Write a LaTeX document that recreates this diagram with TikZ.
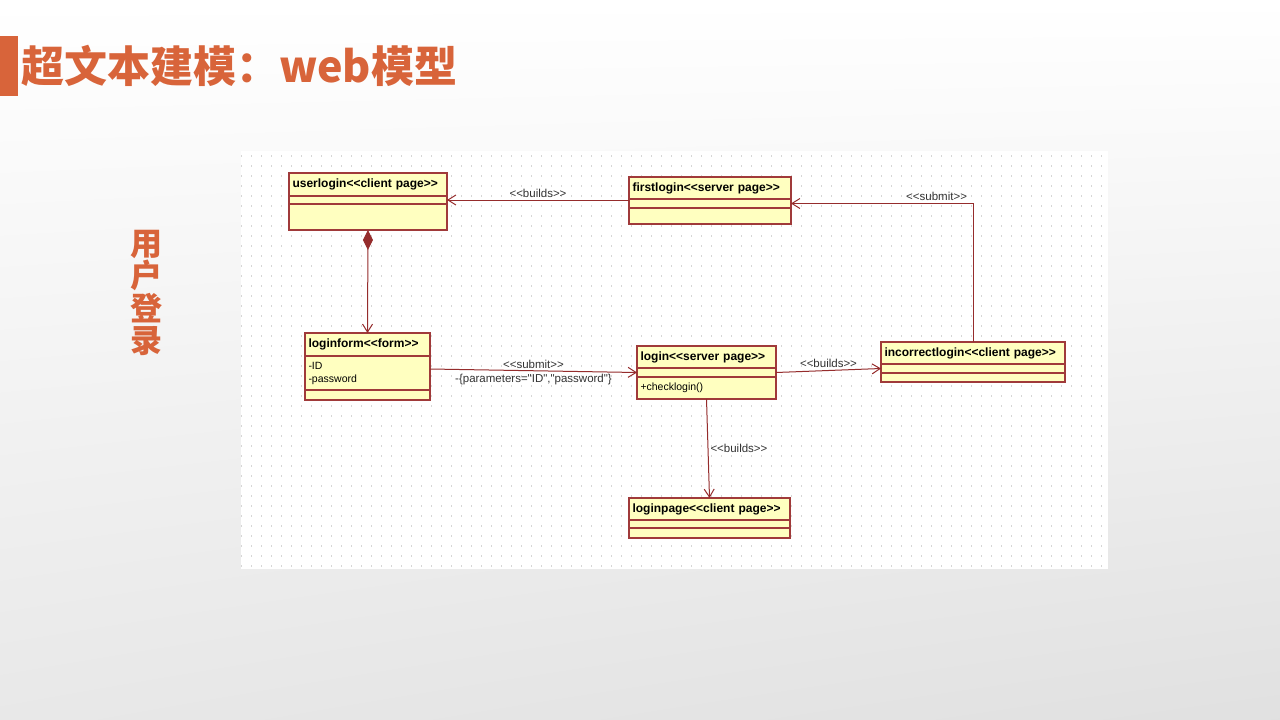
\documentclass[tikz,border=0pt]{standalone}
\usepackage{fontspec}
\setmainfont{Liberation Sans}
\newfontfamily\umlfont{Liberation Sans}[Ligatures=TeXOff]
\newfontfamily\cjk{Noto Sans CJK SC}
\usetikzlibrary{arrows.meta,positioning,shadings}
\definecolor{slideorange}{HTML}{D8643A}
\definecolor{umlred}{HTML}{A03A3A}
\definecolor{umlfill}{HTML}{FFFFC0}
\definecolor{linkred}{HTML}{952C2C}
\definecolor{labelgray}{HTML}{333333}
\definecolor{griddot}{HTML}{D6D6D6}

\begin{document}
\begin{tikzpicture}[x=1pt,y=-1pt,
    part/.style={draw=umlred, fill=umlfill, line width=1.1pt, outer sep=0pt,
                 inner xsep=3.5pt, inner ysep=0pt, text width=#1, align=left,
                 font=\umlfont\fontsize{10.5}{13}\selectfont},
    head/.style={part=#1, anchor=north west,
                 font=\umlfont\bfseries\fontsize{12}{13}\selectfont},
    link/.style={draw=linkred, line width=1pt, -{Straight Barb[length=8pt,width=10pt]}},
    lbl/.style={font=\umlfont\fontsize{11.5}{12}\selectfont, text=labelgray, inner sep=2pt},
    griddots/.style={draw=griddot, line width=1.2pt, dash pattern=on 1.2pt off 8.8pt}]

  % slide background
  \useasboundingbox (0,0) rectangle (1280,720);
  \shade[upper left=white, upper right=white, lower left=white!91!black,
         lower right=white!88!black] (0,0) rectangle (1280,720);
  \fill[slideorange] (0,36) rectangle (18,96);
  \node[anchor=base west, inner sep=0pt, text=slideorange,
        font=\cjk\bfseries\fontsize{43}{43}\selectfont] (title) at (21,82)
        {超文本建模：web模型};
  \node[align=center, inner sep=0pt, text=slideorange,
        font=\cjk\bfseries\fontsize{32}{32.5}\selectfont] (side) at (146,293)
        {用\\户\\登\\录};

  % diagram panel with dotted grid
  \fill[white] (241,151) rectangle (1108,569);
  \foreach \gy in {156,166,...,566}
    \draw[griddots] (241,\gy) -- (1108,\gy);

  % classes
  \node[head=151, minimum height=23] (userlogin) at (289,173) {userlogin<<client page>>};
  \node[part=151, minimum height=8, below=0pt of userlogin] (userlogin-a) {};
  \node[part=151, minimum height=26, below=0pt of userlogin-a] (userlogin-o) {};

  \node[head=155, minimum height=22] (firstlogin) at (629,177) {firstlogin<<server page>>};
  \node[part=155, minimum height=9, below=0pt of firstlogin] (firstlogin-a) {};
  \node[part=155, minimum height=16, below=0pt of firstlogin-a] (firstlogin-o) {};

  \node[head=118, minimum height=23] (loginform) at (305,333) {loginform<<form>>};
  \node[part=118, minimum height=34, below=0pt of loginform] (loginform-a) {-ID\\-password};
  \node[part=118, minimum height=10, below=0pt of loginform-a] (loginform-o) {};

  \node[head=132, minimum height=22] (login) at (637,346) {login<<server page>>};
  \node[part=132, minimum height=9, below=0pt of login] (login-a) {};
  \node[part=132, minimum height=22, below=0pt of login-a] (login-o) {+checklogin()};

  \node[head=177, minimum height=22] (incorrectlogin) at (881,342) {incorrectlogin<<client page>>};
  \node[part=177, minimum height=9, below=0pt of incorrectlogin] (incorrectlogin-a) {};
  \node[part=177, minimum height=9, below=0pt of incorrectlogin-a] (incorrectlogin-o) {};

  \node[head=154, minimum height=22] (loginpage) at (629,498) {loginpage<<client page>>};
  \node[part=154, minimum height=8, below=0pt of loginpage] (loginpage-a) {};
  \node[part=154, minimum height=10, below=0pt of loginpage-a] (loginpage-o) {};

  % links
  \draw[link] (firstlogin-a.west |- userlogin-a.east) -- (userlogin-a.east)
    node[lbl, midway, above] {<<builds>>};
  \draw[link, {Diamond[length=20pt,width=10pt]}-{Straight Barb[length=8pt,width=10pt]}]
    (userlogin-o.south) -- (loginform.north);
  \draw[link] ([yshift=4pt]loginform-a.east) -- (login-a.west)
    node[lbl, midway, above] {<<submit>>}
    node[lbl, midway, below, yshift=-1pt] {-\{parameters="ID","password"\}};
  \draw[link] (login-a.east) -- (incorrectlogin-a.west)
    node[lbl, midway, above] {<<builds>>};
  \draw[link] (incorrectlogin.north) |- (firstlogin-a.east)
    node[lbl, pos=0.6, above] {<<submit>>};
  \draw[link] (login-o.south) -- (loginpage.north)
    node[lbl, midway, right] {<<builds>>};

\end{tikzpicture}
\end{document}
